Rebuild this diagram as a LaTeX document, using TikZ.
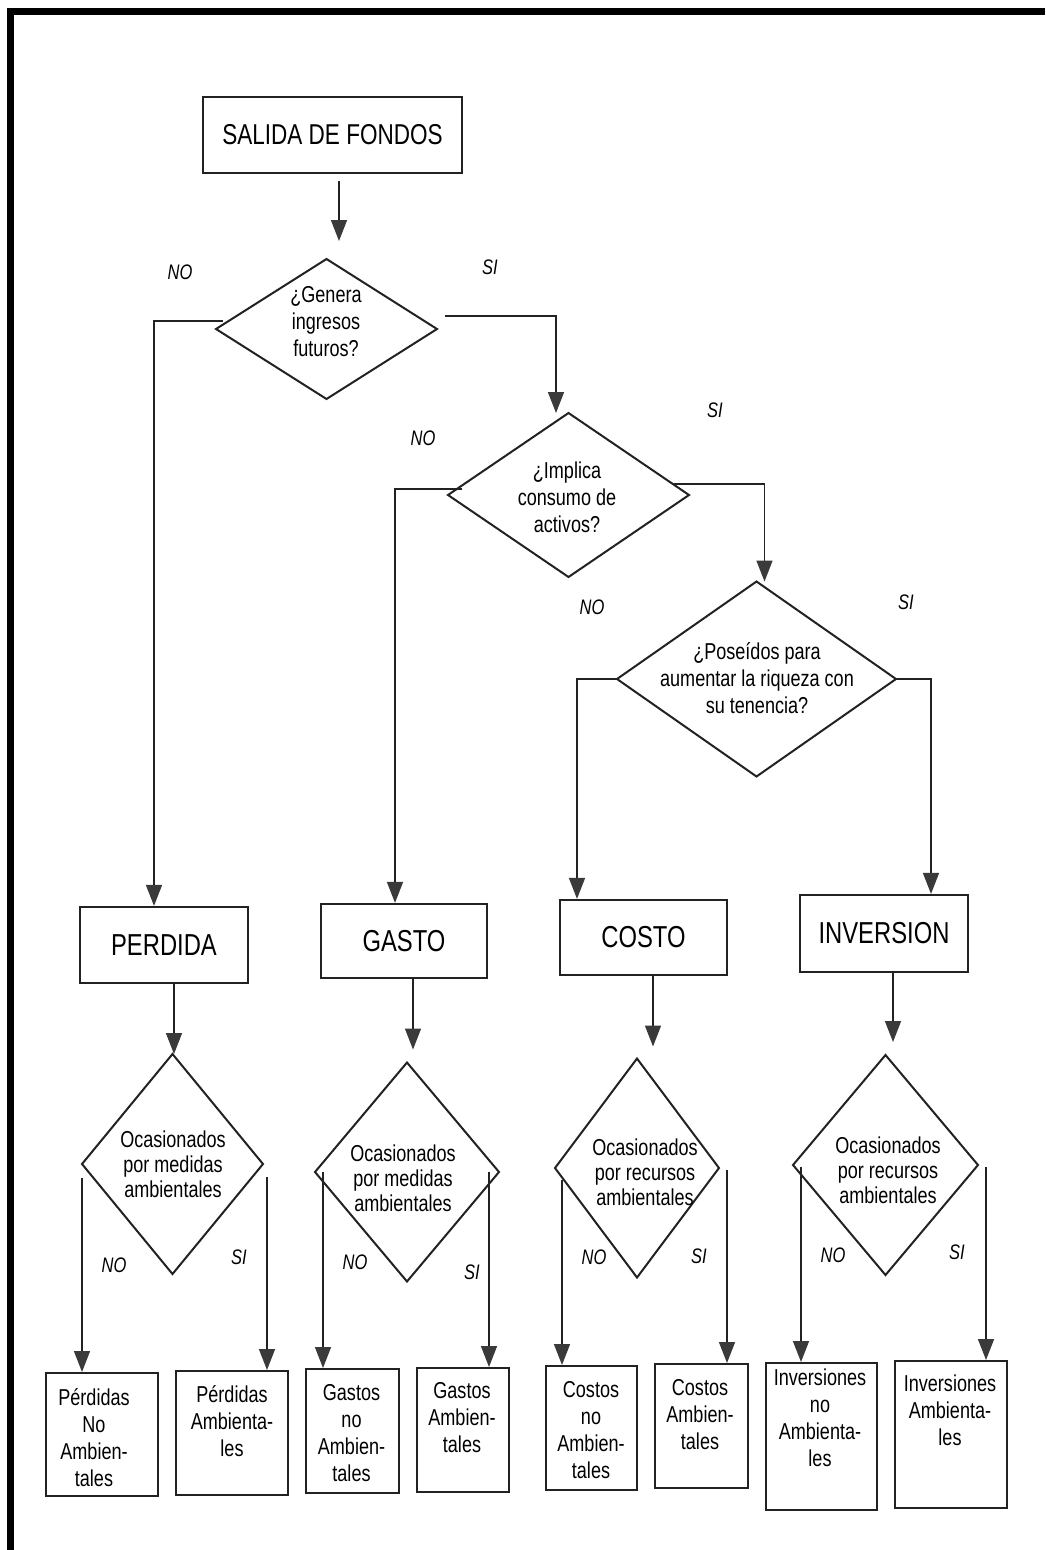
\documentclass[tikz,border=0pt]{standalone}
\usepackage{fontspec}
\setmainfont{Liberation Sans}[FakeStretch=0.785]
\usetikzlibrary{arrows.meta,shapes.geometric}
\definecolor{ink}{HTML}{222222}
\definecolor{headc}{HTML}{3A3A3A}
\begin{document}
\begin{tikzpicture}[x=1pt,y=-1pt,
  box/.style={draw=ink, line width=2.2pt, inner sep=0pt, font=\fontsize{30.3}{35}\selectfont},
  leaf/.style={draw=ink, line width=2pt, inner sep=0pt},
  dia/.style={diamond, draw=ink, line width=2pt, inner sep=0pt, outer sep=0pt},
  qtext/.style={align=center, inner sep=0pt, font=\fontsize{23}{27}\selectfont},
  otext/.style={align=center, inner sep=0pt, font=\fontsize{23}{25}\selectfont},
  ltext/.style={align=center, inner sep=0pt, anchor=base, font=\fontsize{23}{27}\selectfont},
  lab/.style={inner sep=0pt, font=\fontsize{21}{24}\selectfont\itshape},
  arr/.style={draw=ink, line width=1.5pt, -{Triangle[length=21pt,width=16pt,color=headc]}},
]
\useasboundingbox (0,0) rectangle (1045,1550);
% frame: top and left bars
\fill[black] (7,8) rectangle (1045,15);
\fill[black] (7,8) rectangle (14,1550);

% start
\node[box, minimum width=259pt, minimum height=76pt, font=\fontsize{28.7}{33}\selectfont] (salida) at (332.5,135) {SALIDA DE FONDOS};

% decision chain
\node[dia, minimum width=221pt, minimum height=140pt] (d1) at (326.5,329) {};
\node[qtext] (q1) at (326,322) {¿Genera\\ingresos\\futuros?};
\node[dia, minimum width=241pt, minimum height=164pt] (d2) at (568.5,495) {};
\node[qtext] (q2) at (567,497) {¿Implica\\consumo de\\activos?};
\node[dia, minimum width=279pt, minimum height=195pt] (d3) at (756.5,679) {};
\node[qtext] (q3) at (757,678) {¿Poseídos para\\aumentar la riqueza con\\su tenencia?};

% categories
\node[box, minimum width=168pt, minimum height=76pt] (perdida) at (164,945) {PERDIDA};
\node[box, minimum width=166pt, minimum height=74pt] (gasto) at (404,941) {GASTO};
\node[box, minimum width=167pt, minimum height=75pt] (costo) at (643.5,937.5) {COSTO};
\node[box, minimum width=168pt, minimum height=77pt] (inversion) at (884,933.5) {INVERSION};

% environmental split
\node[dia, minimum width=181pt, minimum height=220pt] (dp) at (172.5,1164) {};
\node[otext] (op) at (173,1164) {Ocasionados\\por medidas\\ambientales};
\node[dia, minimum width=184pt, minimum height=219pt] (dg) at (407,1172) {};
\node[otext] (og) at (403,1178) {Ocasionados\\por medidas\\ambientales};
\node[dia, minimum width=164pt, minimum height=219pt] (dc) at (637,1168) {};
\node[otext] (oc) at (645,1172) {Ocasionados\\por recursos\\ambientales};
\node[dia, minimum width=185pt, minimum height=220pt] (di) at (885.5,1165) {};
\node[otext] (oi) at (888,1170) {Ocasionados\\por recursos\\ambientales};

% results
\node[leaf, minimum width=112pt, minimum height=123pt] (l1) at (102,1434.5) {};
\node[leaf, minimum width=112pt, minimum height=124pt] (l2) at (232,1433) {};
\node[leaf, minimum width=93pt, minimum height=124pt] (l3) at (352.5,1431) {};
\node[leaf, minimum width=92pt, minimum height=124pt] (l4) at (463,1430) {};
\node[leaf, minimum width=91pt, minimum height=124pt] (l5) at (591.5,1428) {};
\node[leaf, minimum width=93pt, minimum height=124pt] (l6) at (701.5,1426) {};
\node[leaf, minimum width=111pt, minimum height=147pt] (l7) at (821.5,1436.5) {};
\node[leaf, minimum width=112pt, minimum height=147pt] (l8) at (951,1434.5) {};

% result texts, placed by the baseline of their last line
\node[ltext] (t1) at (94,1486) {Pérdidas\\No\\Ambien-\\tales};
\node[ltext] (t2) at (232,1456) {Pérdidas\\Ambienta-\\les};
\node[ltext] (t3) at (351.5,1481) {Gastos\\no\\Ambien-\\tales};
\node[ltext] (t4) at (462,1452) {Gastos\\Ambien-\\tales};
\node[ltext] (t5) at (591,1478) {Costos\\no\\Ambien-\\tales};
\node[ltext] (t6) at (700,1449) {Costos\\Ambien-\\tales};
\node[ltext] (t7) at (820,1466) {Inversiones\\no\\Ambienta-\\les};
\node[ltext] (t8) at (950,1445) {Inversiones\\Ambienta-\\les};

% branch labels
\node[lab] (n1) at (180,272) {NO};
\node[lab] (s1) at (490,267) {SI};
\node[lab] (n2) at (423,438) {NO};
\node[lab] (s2) at (715,410) {SI};
\node[lab] (n3) at (592,607) {NO};
\node[lab] (s3) at (906,602) {SI};
\node[lab] (n4) at (114,1265) {NO};
\node[lab] (s4) at (239,1257) {SI};
\node[lab] (n5) at (355,1262) {NO};
\node[lab] (s5) at (472,1272) {SI};
\node[lab] (n6) at (594,1257) {NO};
\node[lab] (s6) at (699,1256) {SI};
\node[lab] (n7) at (833,1255) {NO};
\node[lab] (s7) at (957,1252) {SI};

% connectors
\draw[arr] ([xshift=6.5pt,yshift=-7pt]salida.south) -- ([xshift=12.5pt,yshift=18pt]d1.north);
\draw[arr] ([xshift=7pt,yshift=8pt]d1.west) -| ([xshift=-10pt]perdida.north);
\draw[arr] ([xshift=8pt,yshift=13pt]d1.east) -| ([xshift=-12.5pt]d2.north);
\draw[arr] ([xshift=14pt,yshift=6pt]d2.west) -| ([xshift=-9pt]gasto.north);
\draw[arr] ([xshift=-15pt,yshift=11pt]d2.east) -| ([xshift=8pt]d3.north);
\draw[arr] (d3.west) -| ([xshift=-66.5pt]costo.north);
\draw[arr] (d3.east) -| ([xshift=47pt]inversion.north);

\draw[arr] ([xshift=10pt]perdida.south) -- ([xshift=1.5pt]dp.north);
\draw[arr] ([xshift=9pt]gasto.south) -- ([xshift=6pt,yshift=13pt]dg.north);
\draw[arr] ([xshift=9.5pt]costo.south) -- ([xshift=16pt,yshift=12pt]dc.north);
\draw[arr] ([xshift=9pt]inversion.south) -- ([xshift=7.5pt,yshift=13pt]di.north);

\draw[arr] ([yshift=-14pt]dp.west) -- ([xshift=-20pt]l1.north);
\draw[arr] ([xshift=4pt,yshift=-13pt]dp.east) -- ([xshift=35pt]l2.north);
\draw[arr] ([xshift=8pt]dg.west) -- ([xshift=-29.5pt]l3.north);
\draw[arr] ([xshift=-10pt]dg.east) -- ([xshift=26pt]l4.north);
\draw[arr] ([xshift=7pt,yshift=-12pt]dc.west) -- ([xshift=-29.5pt]l5.north);
\draw[arr] ([xshift=8pt,yshift=-2pt]dc.east) -- ([xshift=25.5pt]l6.north);
\draw[arr] ([xshift=8pt,yshift=-2pt]di.west) -- ([xshift=-20.5pt]l7.north);
\draw[arr] ([xshift=8pt,yshift=-2pt]di.east) -- ([xshift=35pt]l8.north);
\end{tikzpicture}
\end{document}
